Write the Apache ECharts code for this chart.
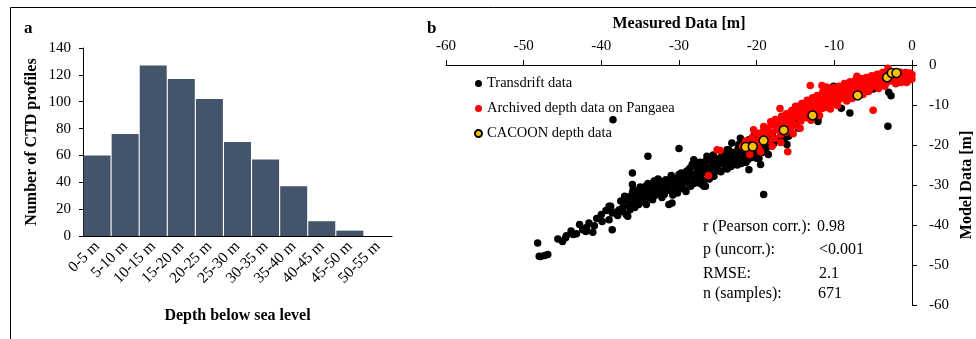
<!DOCTYPE html>
<html><head><meta charset="utf-8">
<script src="https://cdn.jsdelivr.net/npm/echarts@6/dist/echarts.min.js"></script>
<style>html,body{margin:0;padding:0;background:#fff}#c{width:976px;height:339px}</style>
</head><body><div id="c"></div>
<script>
// ---- Panel a: histogram ----
const depthCategories = ['0-5 m','5-10 m','10-15 m','15-20 m','20-25 m','25-30 m','30-35 m','35-40 m','40-45 m','45-50 m','50-55 m'];
const ctdCounts = [60, 76, 127, 117, 102, 70, 57, 37, 11, 4, 0];
const countTicks = [0, 20, 40, 60, 80, 100, 120, 140];

// ---- Panel b: scatter [measured, model] ----
const transdriftData = [
[-48.2,-44.5],[-48.0,-47.8],[-47.3,-47.6],[-46.9,-47.4],[-45.0,-44.1],[-44.6,-43.2],[-44.5,-42.7],[-43.6,-42.4],[-43.2,-42.2],[-42.8,-39.9],
[-42.4,-41.2],[-42.0,-41.6],[-41.6,-39.5],[-41.1,-41.8],[-40.0,-37.4],[-39.9,-39.1],[-39.4,-36.4],[-39.0,-35.3],[-39.0,-38.7],[-38.6,-41.2],
[-38.6,-37.0],[-38.8,-35.3],[-37.7,-36.2],[-37.0,-32.8],[-36.8,-37.4],[-36.6,-37.8],[-36.4,-35.3],[-36.0,-27.0],[-36.0,-29.9],[-35.9,-31.2],
[-36.0,-32.0],[-35.6,-34.5],[-35.1,-32.8],[-34.9,-33.7],[-34.3,-31.2],[-34.3,-30.3],[-34.1,-32.4],[-34.0,-22.8],[-33.4,-31.6],[-33.4,-33.7],
[-32.8,-29.9],[-32.6,-32.0],[-32.6,-30.3],[-31.9,-30.8],[-31.7,-28.7],[-31.3,-34.9],[-31.1,-29.1],[-30.9,-34.5],[-30.4,-31.2],[-30.0,-20.9],
[-30.0,-27.4],[-30.0,-27.9],[-29.8,-29.9],[-29.1,-28.3],[-29.1,-31.6],[-28.7,-26.6],[-28.5,-30.3],[-28.1,-23.7],[-27.9,-25.4],[-27.9,-29.5],
[-27.7,-27.9],[-27.4,-25.4],[-27.0,-25.8],[-26.8,-29.1],[-26.8,-30.3],[-26.6,-30.3],[-26.2,-23.7],[-25.3,-24.9],[-24.4,-23.3],[-24.0,-25.8],
[-23.6,-21.2],[-22.9,-24.1],[-22.3,-19.9],[-21.9,-23.3],[-21.0,-26.2],[-20.0,-23.3],[-19.1,-32.4],[-18.9,-21.6],[-38.5,-13.7],
[-37.5,-34.0],[-37.2,-35.5],[-36.9,-33.8],[-36.5,-33.0],[-35.8,-33.2],[-35.4,-31.5],[-35.0,-30.5],[-34.7,-34.2],[-34.6,-32.0],[-34.0,-29.6],
[-33.8,-30.8],[-33.6,-32.6],[-33.0,-30.0],[-32.9,-31.2],[-32.3,-29.2],[-32.2,-33.1],[-31.8,-31.7],[-31.5,-30.2],[-31.0,-27.6],[-30.8,-32.5],
[-30.6,-29.8],[-30.3,-28.6],[-30.1,-30.7],[-29.7,-27.0],[-29.5,-28.8],[-29.4,-31.0],[-29.0,-26.5],[-28.8,-29.4],[-28.4,-27.2],[-28.3,-24.9],
[-28.0,-28.4],[-27.6,-26.6],[-27.3,-24.3],[-27.1,-28.6],[-26.9,-27.0],[-26.5,-25.5],[-26.4,-22.8],[-26.0,-26.7],[-25.8,-24.0],[-25.6,-22.5],
[-25.5,-27.8],[-25.0,-25.3],[-24.8,-23.8],[-24.6,-26.7],[-24.2,-22.2],[-23.9,-24.5],[-23.5,-23.0],[-23.3,-25.4],[-23.0,-21.9],[-22.6,-23.6],
[-22.4,-21.0],[-22.0,-24.6],[-21.7,-22.3],[-21.5,-20.2],[-21.2,-23.8],[-20.8,-21.2],[-20.5,-22.4],[-20.2,-19.6],[-19.7,-23.3],[-19.5,-20.8],
[-19.5,-24.9],[-18.5,-22.4],[-18.0,-17.4],[-18.9,-16.2],[-17.2,-14.1],[-17.0,-14.5],[-16.1,-19.9],[-15.9,-17.8],[-15.0,-11.2],[-15.0,-13.3],
[-14.6,-15.8],[-13.3,-12.4],[-12.9,-11.6],[-12.1,-14.1],[-12.1,-13.3],[-10.8,-8.3],[-10.1,-5.3],[-9.1,-6.3],[-9.1,-10.8],[-8.0,-12.0],
[-5.0,-6.0],[-3.0,-6.8],[-2.7,-7.7],[-3.1,-15.3],[-22.1,-18.3],[-22.3,-20.3],[-23.2,-19.5],[-23.8,-21.2],[-21.0,-18.7],[-32.6,-31.0],
[-33.2,-29.0],[-35.3,-33.6],[-36.2,-34.7],[-37.9,-37.6],[-38.2,-36.8],[-13.8,-9.8],[-11.4,-9.6],[-6.2,-4.6],[-4.2,-4.9],[-2.4,-2.3],[-20.4,-17.8],
[-37.3,-36.6],[-36.3,-36.2],[-35.7,-35.6],[-35.2,-34.9],[-34.5,-33.0],[-34.2,-34.9],[-33.9,-33.2],[-33.5,-30.2],[-33.1,-32.6],[-32.7,-28.5],
[-32.4,-30.6],[-31.9,-32.4],[-31.6,-29.6],[-31.2,-31.4],[-30.9,-28.4],[-30.5,-30.4],[-30.2,-32.0],[-29.9,-28.9],[-29.6,-30.4],[-29.2,-27.6],
[-28.9,-28.0],[-28.6,-25.8],[-28.2,-29.7],[-27.8,-24.4],[-27.5,-27.3],[-27.2,-29.7],[-26.7,-24.2],[-26.3,-26.1],[-26.1,-28.5],[-25.7,-25.3],
[-25.4,-23.2],[-25.1,-26.4],[-24.7,-24.7],[-24.5,-22.8],[-24.1,-24.0],[-23.8,-26.0],[-23.4,-22.4],[-23.1,-24.4],[-22.8,-22.6],[-22.5,-25.0],
[-22.2,-22.0],[-21.8,-21.5],[-21.4,-24.4],[-21.1,-22.3],[-20.7,-23.2],[-20.3,-21.6],[-19.9,-22.2],[-19.3,-21.9],[-18.7,-20.6],[-18.3,-19.2],
[-17.8,-19.6],[-17.4,-18.6],[-16.8,-17.6],[-16.4,-18.4],[-40.6,-38.4],[-40.9,-40.2],[-41.9,-40.6],[-43.9,-41.5],[-45.6,-43.5],[-47.8,-47.9]
];
const pangaeaData = [
[-26.2,-27.6],[-25.1,-21.2],[-24.7,-21.4],[-20.9,-22.4],[-16.0,-21.7],[-17.0,-10.9],[-13.1,-5.1],[-11.6,-5.1],[-11.0,-5.5],[-7.1,-2.8],
[-5.0,-11.3],[-3.1,-0.8],[-0.1,-3.3],[-15.0,-10.3],[-13.1,-9.3],
[-21.4,-19.0],[-21.0,-20.6],[-20.6,-18.2],[-20.2,-19.4],[-20.0,-17.0],[-19.8,-20.6],[-19.6,-18.4],[-19.3,-16.8],[-19.0,-19.2],[-18.8,-17.6],
[-18.6,-15.8],[-18.4,-18.8],[-18.1,-16.9],[-17.9,-15.0],[-17.7,-18.3],[-17.4,-16.2],[-17.2,-14.6],[-16.9,-17.4],[-16.7,-15.5],[-16.5,-13.9],
[-16.3,-16.8],[-16.0,-14.6],[-15.8,-12.9],[-15.6,-16.0],[-15.4,-13.8],[-15.1,-12.2],[-14.9,-15.1],[-14.7,-12.9],[-14.5,-11.3],[-14.3,-14.0],
[-14.0,-12.1],[-13.8,-10.6],[-13.6,-13.2],[-13.4,-11.4],[-13.2,-9.9],[-12.9,-12.4],[-12.7,-10.6],[-12.5,-9.1],[-12.3,-11.6],[-12.0,-9.9],
[-11.8,-8.5],[-11.6,-10.9],[-11.3,-9.2],[-11.1,-7.7],[-10.9,-10.2],[-10.7,-8.6],[-10.4,-7.1],[-10.2,-9.5],[-10.0,-8.0],[-9.8,-6.6],
[-9.5,-8.9],[-9.3,-7.4],[-9.0,-6.1],[-8.8,-8.3],[-8.6,-6.9],[-8.3,-5.7],[-8.1,-7.8],[-7.9,-6.4],[-7.6,-5.2],[-7.4,-7.2],
[-7.2,-6.0],[-6.9,-4.8],[-6.7,-6.7],[-6.5,-5.5],[-6.2,-4.4],[-6.0,-6.2],[-5.8,-5.0],[-5.5,-3.9],[-5.3,-5.7],[-5.1,-4.6],
[-4.8,-3.5],[-4.6,-5.2],[-4.4,-4.1],[-4.1,-3.0],[-3.9,-4.8],[-3.7,-3.7],[-3.4,-2.6],[-3.2,-4.3],[-3.0,-3.4],[-2.7,-2.3],
[-2.5,-4.0],[-2.3,-3.1],[-2.0,-2.6],[-1.8,-3.7],[-1.6,-2.9],[-1.3,-2.4],[-1.1,-3.6],[-0.9,-2.9],[-0.6,-2.3],[-0.4,-3.8],
[-0.2,-2.7],[0.0,-3.5],
[-21.8,-20.3],[-20.4,-16.2],[-19.1,-15.4],[-18.2,-14.2],[-17.6,-13.6],[-16.8,-12.8],[-16.2,-12.2],[-15.5,-11.4],[-14.8,-10.4],[-14.2,-9.6],
[-13.5,-8.8],[-12.8,-8.2],[-12.2,-7.6],[-11.5,-6.8],[-10.8,-6.2],[-10.1,-5.6],[-9.4,-5.3],[-8.7,-4.6],[-8.0,-4.2],[-7.3,-3.8],
[-6.6,-3.4],[-5.9,-3.1],[-5.2,-2.7],[-4.5,-2.3],[-3.8,-1.9],[-2.9,-1.6],[-2.2,-1.9],[-1.5,-1.8],[-0.8,-1.9],[-0.3,-2.0],
[-19.5,-21.7],[-18.0,-20.3],[-16.9,-19.4],[-15.3,-17.2],[-14.4,-15.8],[-13.0,-13.8],[-11.9,-12.6],[-10.5,-11.0],[-9.6,-10.1],[-8.4,-9.0],
[-7.7,-8.4],[-6.3,-7.4],[-5.6,-6.6],[-4.3,-5.9],[-3.5,-5.3],[-2.1,-4.7],[-1.4,-4.4],[-0.7,-4.4],[0.0,-2.4],[-15.7,-14.8],
[-14.1,-13.1],[-12.6,-11.1],[-11.2,-10.6],[-9.9,-9.3],[-8.5,-7.4],[-7.0,-6.5],[-5.7,-5.4],[-4.9,-4.4],[-4.0,-3.9],[-2.8,-3.2]
];
const cacoonData = [[-21.4,-20.5],[-20.5,-20.4],[-19.1,-18.9],[-16.5,-16.3],[-12.8,-12.6],[-7.0,-7.6],[-3.2,-3.1],[-2.6,-2.0],[-2.0,-2.0]];
const depthTicks = [-60, -50, -40, -30, -20, -10, 0];
const statLabels = ['r (Pearson corr.):', 'p (uncorr.):', 'RMSE:', 'n (samples):'];
const statValues = ['0.98', '<0.001', '2.1', '671'];

const FONT = '"Liberation Serif", "DejaVu Serif", serif';
const txt = {fontFamily: FONT, color: '#000'};
const axisBlack = {lineStyle: {color: '#000', width: 1}};

const statTop = [219, 242, 266, 286];
const statValX = [817, 819, 819, 818];
const graphics = [
  {type: 'rect', shape: {x: 10.5, y: 7.5, width: 1200, height: 600}, style: {fill: 'none', stroke: '#000', lineWidth: 1}, silent: true},
  {type: 'text', left: 24, top: 20, style: {text: 'a', font: 'bold 17px ' + FONT, fill: '#000'}},
  {type: 'text', left: 427, top: 20, style: {text: 'b', font: 'bold 17px ' + FONT, fill: '#000'}}
];
statLabels.forEach((s, i) => {
  graphics.push({type: 'text', left: 703, top: statTop[i], style: {text: s, font: '16px ' + FONT, fill: '#000'}});
  graphics.push({type: 'text', left: statValX[i], top: statTop[i], style: {text: statValues[i], font: '16px ' + FONT, fill: '#000'}});
});

const chart = echarts.init(document.getElementById('c'), null, {renderer: 'canvas'});
chart.setOption({
  backgroundColor: '#fff',
  animation: false,
  textStyle: {fontFamily: FONT},
  graphic: graphics,
  legend: {
    orient: 'vertical', left: 469, top: 71, itemGap: 10, itemWidth: 7, itemHeight: 7,
    textStyle: {fontFamily: FONT, fontSize: 14.5, color: '#000'},
    data: [
      {name: 'Transdrift data', icon: 'circle', itemStyle: {color: '#000'}},
      {name: 'Archived depth data on Pangaea', icon: 'circle', itemStyle: {color: '#ff0000'}},
      {name: 'CACOON depth data', icon: 'circle'}
    ]
  },
  grid: [
    {left: 83, top: 48, width: 309, height: 188},
    {left: 446, top: 65, width: 468, height: 240}
  ],
  xAxis: [
    {
      gridIndex: 0, type: 'category', data: depthCategories,
      axisLine: axisBlack, axisTick: {show: false},
      axisLabel: Object.assign({rotate: 45, fontSize: 15.5, margin: 8, interval: 0}, txt),
      name: 'Depth below sea level', nameLocation: 'middle', nameGap: 72,
      nameTextStyle: Object.assign({fontSize: 16, fontWeight: 'bold'}, txt)
    },
    {
      gridIndex: 1, type: 'value', position: 'top', min: -60, max: 0, interval: 10,
      axisLine: axisBlack, axisTick: {show: true, length: 5, lineStyle: {color: '#000'}},
      splitLine: {show: false},
      axisLabel: Object.assign({fontSize: 15, margin: 11}, txt),
      name: 'Measured Data [m]', nameLocation: 'middle', nameGap: 33,
      nameTextStyle: Object.assign({fontSize: 16, fontWeight: 'bold'}, txt)
    }
  ],
  yAxis: [
    {
      gridIndex: 0, type: 'value', min: 0, max: 140, interval: 20,
      axisLine: {show: true, lineStyle: {color: '#000'}},
      axisTick: {show: true, length: 4, lineStyle: {color: '#000'}},
      splitLine: {show: false},
      axisLabel: Object.assign({fontSize: 15, margin: 12}, txt),
      name: 'Number of CTD profiles', nameLocation: 'middle', nameGap: 43,
      nameTextStyle: Object.assign({fontSize: 16, fontWeight: 'bold'}, txt)
    },
    {
      gridIndex: 1, type: 'value', position: 'right', min: -60, max: 0, interval: 10,
      axisLine: {show: true, lineStyle: {color: '#000'}},
      axisTick: {show: true, length: 5, lineStyle: {color: '#000'}},
      splitLine: {show: false},
      axisLabel: Object.assign({fontSize: 15, margin: 17}, txt),
      name: 'Model Data [m]', nameLocation: 'middle', nameGap: 47,
      nameTextStyle: Object.assign({fontSize: 16, fontWeight: 'bold'}, txt)
    }
  ],
  series: [
    {
      type: 'bar', xAxisIndex: 0, yAxisIndex: 0, data: ctdCounts, barCategoryGap: '4%',
      itemStyle: {color: '#44546a'}, silent: true
    },
    {
      name: 'Transdrift data', type: 'scatter', xAxisIndex: 1, yAxisIndex: 1, data: transdriftData,
      symbolSize: 7.5, itemStyle: {color: '#000', opacity: 1}
    },
    {
      name: 'Archived depth data on Pangaea', type: 'scatter', xAxisIndex: 1, yAxisIndex: 1, data: pangaeaData,
      symbolSize: 7.5, itemStyle: {color: '#ff0000', opacity: 1}
    },
    {
      name: 'CACOON depth data', type: 'scatter', xAxisIndex: 1, yAxisIndex: 1, data: cacoonData,
      symbolSize: 9, itemStyle: {color: '#ffc000', borderColor: '#000', borderWidth: 1.5, opacity: 1}
    }
  ]
});
</script></body></html>
